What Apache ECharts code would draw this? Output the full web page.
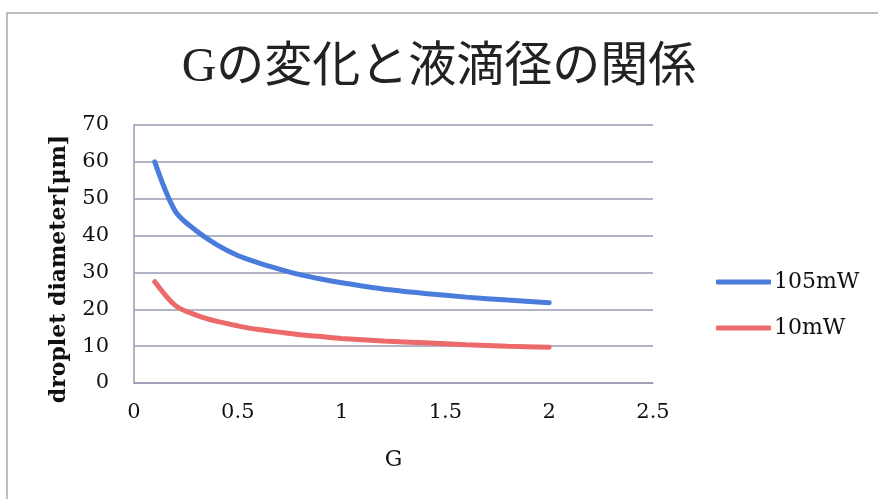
<!DOCTYPE html>
<html>
<head>
<meta charset="utf-8">
<style>
  html, body { margin: 0; padding: 0; background: #ffffff; }
  #chart { width: 878px; height: 499px; }
</style>
<script src="https://cdn.jsdelivr.net/npm/echarts@6/dist/echarts.min.js"></script>
</head>
<body>
<div id="chart"></div>
<script>
// Measured droplet diameter [μm] against G for two laser powers
const gValues = [0.1, 0.2, 0.3, 0.4, 0.5, 0.6, 0.7, 0.8, 0.9, 1.0, 1.2, 1.4, 1.6, 1.8, 2.0];
const d105mW = [60, 46.5, 41.3, 37.5, 34.6, 32.6, 30.9, 29.4, 28.2, 27.2, 25.5, 24.3, 23.3, 22.5, 21.8];
const d10mW = [27.5, 21.0, 18.4, 16.7, 15.5, 14.5, 13.8, 13.1, 12.6, 12.1, 11.4, 10.9, 10.4, 10.0, 9.7];
const seriesNames = ['105mW', '10mW'];
const xTicks = [0, 0.5, 1, 1.5, 2, 2.5];
const yTicks = [0, 10, 20, 30, 40, 50, 60, 70];

const serif = '"DejaVu Serif", "Liberation Serif", "Noto Sans CJK JP", serif';
const titleFont = '"Liberation Serif", "Noto Sans CJK JP", serif';
const gridColor = '#9a9ab6';

const pairs = (xs, ys) => xs.map((x, i) => [x, ys[i]]);

const chart = echarts.init(document.getElementById('chart'), null, { renderer: 'canvas' });
chart.setOption({
  backgroundColor: '#ffffff',
  animation: false,
  graphic: [{
    type: 'rect',
    shape: { x: 7, y: 13, width: 900, height: 600 },
    style: { fill: 'none', stroke: '#a8a8b4', lineWidth: 1.5 },
    silent: true
  }],
  title: {
    text: 'Gの変化と液滴径の関係',
    left: 'center',
    top: 39,
    textStyle: { fontFamily: titleFont, fontSize: 48, fontWeight: 'normal', color: '#222222' }
  },
  legend: {
    orient: 'vertical',
    left: 711,
    top: 266,
    itemWidth: 55,
    itemHeight: 5,
    itemGap: 24,
    icon: 'roundRect',
    data: seriesNames,
    textStyle: { fontFamily: serif, fontSize: 22, color: '#111111', padding: [0, 0, 0, -2] }
  },
  grid: { left: 134, right: 225, top: 125, bottom: 116, containLabel: false },
  xAxis: {
    type: 'value',
    min: xTicks[0],
    max: xTicks[xTicks.length - 1],
    interval: 0.5,
    name: 'G',
    nameLocation: 'middle',
    nameGap: 66,
    nameTextStyle: { fontFamily: serif, fontSize: 22, color: '#111111' },
    axisLine: { show: true, lineStyle: { color: gridColor, width: 1.5 } },
    axisTick: { show: false },
    splitLine: { show: false },
    axisLabel: {
      fontFamily: serif, fontSize: 21, color: '#111111', margin: 19,
      formatter: v => String(v)
    }
  },
  yAxis: {
    type: 'value',
    min: yTicks[0],
    max: yTicks[yTicks.length - 1],
    interval: 10,
    name: 'droplet diameter[μm]',
    nameLocation: 'middle',
    nameRotate: 90,
    nameGap: 64,
    nameTextStyle: { fontFamily: serif, fontSize: 22, fontWeight: 'bold', color: '#111111', padding: [0, 30, 0, 0] },
    axisLine: { show: true, lineStyle: { color: gridColor, width: 1.5 } },
    axisTick: { show: false },
    splitLine: { show: true, lineStyle: { color: gridColor, width: 1.5 } },
    axisLabel: { fontFamily: serif, fontSize: 21, color: '#111111', margin: 25 }
  },
  series: [
    {
      name: seriesNames[0],
      type: 'line',
      data: pairs(gValues, d105mW),
      smooth: 0.3,
      showSymbol: false,
      symbol: 'none',
      color: '#4a7ddb',
      lineStyle: { width: 5, color: '#4a7ddb', cap: 'round' }
    },
    {
      name: seriesNames[1],
      type: 'line',
      data: pairs(gValues, d10mW),
      smooth: 0.3,
      showSymbol: false,
      symbol: 'none',
      color: '#ec6a6a',
      lineStyle: { width: 5, color: '#ec6a6a', cap: 'round' }
    }
  ]
});
</script>
</body>
</html>
